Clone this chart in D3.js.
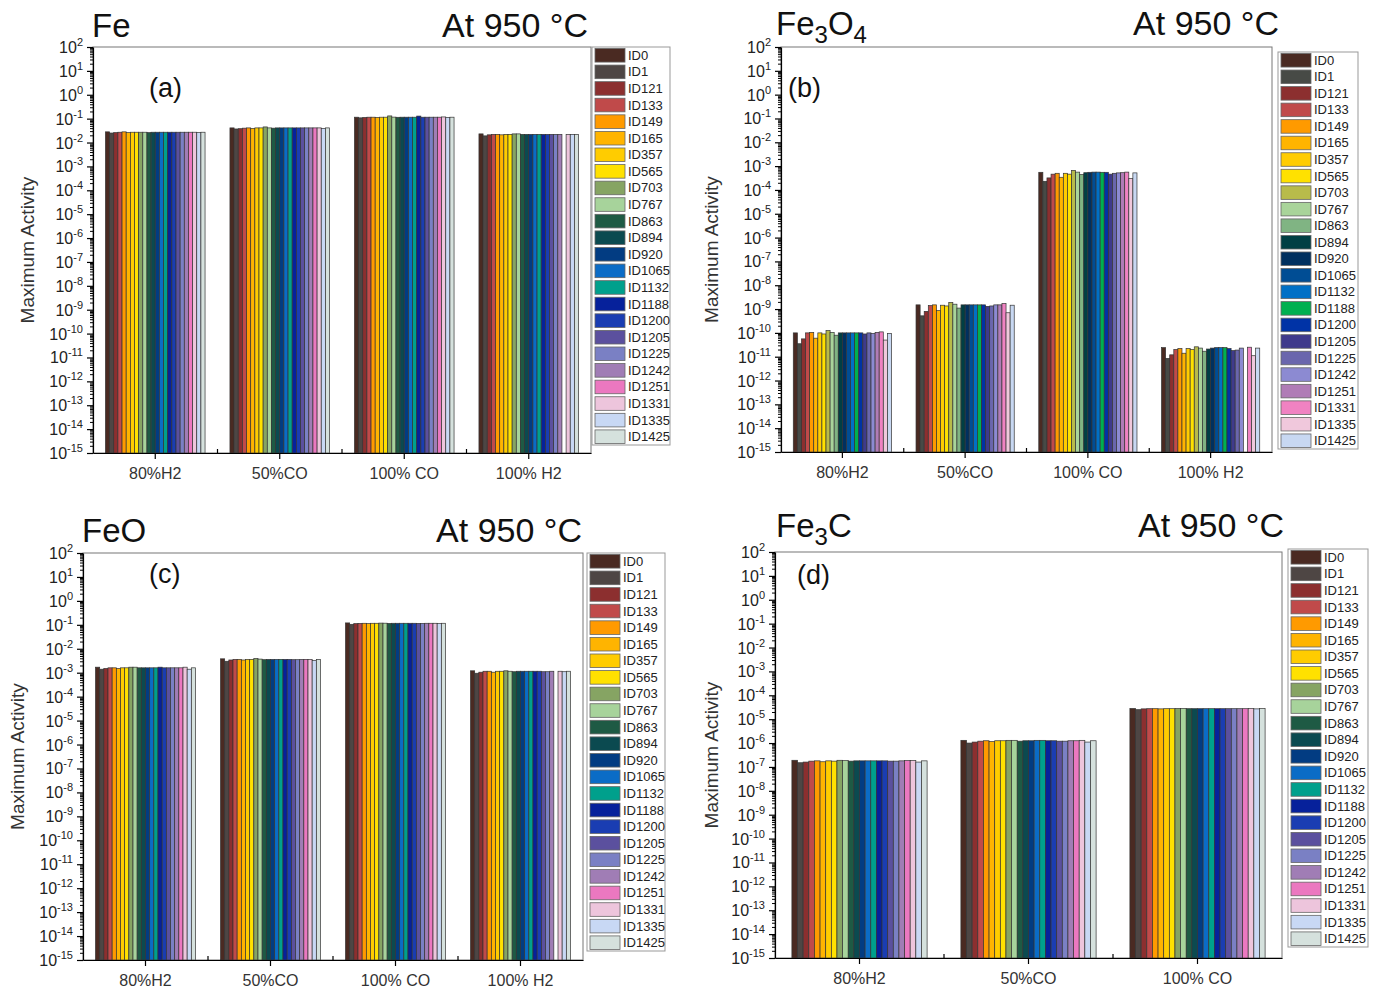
<!DOCTYPE html>
<html>
<head>
<meta charset="utf-8">
<script src="https://d3js.org/d3.v7.min.js"></script>
<style>
  body { margin: 0; background: #fff; }
  text { font-family: "Liberation Sans", Arial, sans-serif; }
</style>
</head>
<body>
<div id="chart"></div>
<script>
// sample ids (legend order)
const ids = ["ID0","ID1","ID121","ID133","ID149","ID165","ID357","ID565","ID703","ID767","ID863","ID894",
  "ID920","ID1065","ID1132","ID1188","ID1200","ID1205","ID1225","ID1242","ID1251","ID1331","ID1335","ID1425"];

// palette used in panels a, c, d
const colorsMain = ["#4a2a22","#4e4644","#8c2f2f","#c04a4a","#ff9a00","#ffb400","#ffcc00","#ffe100","#86a463","#a7d39b",
  "#1e5a44","#0b4a50","#023c82","#0b6cc6","#00a08c","#06219b","#1a3db2","#5b509e","#7a80c4","#a07db5","#eb78c0","#edc5dc","#c8d8f4","#d5e1dd"];
// palette used in panel b
const colorsFe3O4 = ["#4a2a22","#474a46","#8c2f2f","#c04a4a","#ff9a00","#ffb400","#ffcc00","#ffe100","#b8bb4a","#a9d49a",
  "#80b483","#003f44","#00305f","#004d94","#0070c6","#00b050","#0033a6","#3f3a8c","#6a66ad","#8c8ad2","#b07cb6","#f082c2","#f0c8dc","#c8d8f2"];

const cond4 = ["80%H2","50%CO","100% CO","100% H2"];
const cond3 = ["80%H2","50%CO","100% CO"];

// panel (a) Fe
const fe80H2  = [0.028,0.025,0.026,0.027,0.028,0.026,0.027,0.027,0.027,0.027,0.026,0.027,0.027,0.027,0.027,0.027,0.027,0.027,0.027,0.027,0.027,0.027,0.026,0.027];
const fe50CO  = [0.041,0.037,0.038,0.040,0.041,0.039,0.041,0.041,0.045,0.041,0.040,0.041,0.041,0.041,0.041,0.041,0.041,0.041,0.041,0.041,0.041,0.041,0.039,0.041];
const fe100CO = [0.115,0.108,0.112,0.115,0.115,0.113,0.115,0.115,0.130,0.116,0.114,0.115,0.115,0.115,0.115,0.128,0.115,0.115,0.115,0.115,0.115,0.118,0.113,0.115];
const fe100H2 = [0.023,0.019,0.021,0.022,0.022,0.021,0.022,0.022,0.023,0.023,0.022,0.022,0.022,0.022,0.022,0.022,0.022,0.022,0.022,0.022,null,0.022,0.022,0.022];

// panel (b) Fe3O4
const fe3o4_80H2  = [1.0e-10,3.5e-11,5.6e-11,1.0e-10,1.05e-10,6.0e-11,1.0e-10,9.0e-11,1.25e-10,1.05e-10,8.0e-11,1.0e-10,1.0e-10,1.0e-10,1.0e-10,1.0e-10,1.0e-10,9.0e-11,1.0e-10,9.5e-11,1.05e-10,1.1e-10,5.0e-11,9.5e-11];
const fe3o4_50CO  = [1.5e-9,5.2e-10,8.0e-10,1.4e-9,1.5e-9,8.6e-10,1.45e-9,1.35e-9,1.9e-9,1.6e-9,1.1e-9,1.5e-9,1.5e-9,1.5e-9,1.5e-9,1.5e-9,1.5e-9,1.3e-9,1.35e-9,1.5e-9,1.5e-9,1.7e-9,7.0e-10,1.45e-9];
const fe3o4_100CO = [5.5e-4,2.3e-4,3.2e-4,4.6e-4,5.0e-4,3.4e-4,5.0e-4,4.6e-4,6.6e-4,5.6e-4,4.4e-4,5.3e-4,5.5e-4,5.6e-4,5.6e-4,5.5e-4,5.5e-4,4.6e-4,5.0e-4,5.2e-4,5.3e-4,5.6e-4,3.0e-4,5.2e-4];
const fe3o4_100H2 = [2.4e-11,8.5e-12,1.2e-11,2.0e-11,2.2e-11,1.4e-11,2.2e-11,2.0e-11,2.6e-11,2.3e-11,1.7e-11,2.1e-11,2.3e-11,2.4e-11,2.4e-11,2.4e-11,2.2e-11,1.8e-11,1.9e-11,2.3e-11,null,2.5e-11,1.1e-11,2.3e-11];

// panel (c) FeO
const feo80H2  = [1.7e-3,1.4e-3,1.5e-3,1.6e-3,1.6e-3,1.5e-3,1.6e-3,1.6e-3,1.7e-3,1.7e-3,1.6e-3,1.6e-3,1.6e-3,1.6e-3,1.6e-3,1.7e-3,1.6e-3,1.6e-3,1.6e-3,1.6e-3,1.6e-3,1.7e-3,1.4e-3,1.6e-3];
const feo50CO  = [3.8e-3,3.0e-3,3.4e-3,3.6e-3,3.6e-3,3.4e-3,3.6e-3,3.6e-3,3.9e-3,3.7e-3,3.5e-3,3.6e-3,3.6e-3,3.6e-3,3.6e-3,3.6e-3,3.6e-3,3.5e-3,3.5e-3,3.6e-3,3.6e-3,3.6e-3,3.2e-3,3.6e-3];
const feo100CO = [0.120,0.105,0.112,0.115,0.116,0.113,0.116,0.116,0.118,0.117,0.115,0.116,0.116,0.116,0.116,0.116,0.116,0.115,0.115,0.116,0.116,0.116,0.112,0.116];
const feo100H2 = [1.2e-3,0.95e-3,1.05e-3,1.15e-3,1.15e-3,1.05e-3,1.15e-3,1.15e-3,1.2e-3,1.15e-3,1.1e-3,1.15e-3,1.15e-3,1.15e-3,1.15e-3,1.15e-3,1.15e-3,1.1e-3,1.1e-3,1.15e-3,null,1.15e-3,1.1e-3,1.15e-3];

// panel (d) Fe3C
const fe3c80H2  = [1.9e-7,1.5e-7,1.6e-7,1.75e-7,1.8e-7,1.65e-7,1.8e-7,1.75e-7,1.9e-7,1.85e-7,1.75e-7,1.8e-7,1.8e-7,1.8e-7,1.8e-7,1.8e-7,1.8e-7,1.75e-7,1.75e-7,1.8e-7,1.85e-7,1.85e-7,1.6e-7,1.8e-7];
const fe3c50CO  = [1.3e-6,1.0e-6,1.1e-6,1.2e-6,1.25e-6,1.15e-6,1.25e-6,1.25e-6,1.3e-6,1.3e-6,1.2e-6,1.25e-6,1.25e-6,1.3e-6,1.3e-6,1.25e-6,1.25e-6,1.2e-6,1.2e-6,1.25e-6,1.25e-6,1.3e-6,1.1e-6,1.25e-6];
const fe3c100CO = [2.8e-5,2.5e-5,2.7e-5,2.75e-5,2.75e-5,2.7e-5,2.75e-5,2.75e-5,2.8e-5,2.8e-5,2.75e-5,2.75e-5,2.75e-5,2.75e-5,2.75e-5,2.75e-5,2.75e-5,2.75e-5,2.75e-5,2.75e-5,2.75e-5,2.8e-5,2.7e-5,2.8e-5];

const svg = d3.select("#chart").append("svg")
  .attr("width", 1378).attr("height", 992);

const decades = d3.range(-15, 3);

function drawPanel(p) {
  const g = svg.append("g");
  const y = d3.scaleLog().domain([1e-15, 1e2]).range([p.bottom, p.top]);
  const x0 = d3.scaleBand().domain(p.conds).range([p.left, p.right]).paddingInner(0.2).paddingOuter(0.1);
  const x1 = d3.scaleBand().domain(ids).range([0, x0.bandwidth()]);
  const color = d3.scaleOrdinal().domain(ids).range(p.colors);

  // frame
  g.append("rect").attr("x", p.left).attr("y", p.top)
    .attr("width", p.right - p.left).attr("height", p.bottom - p.top)
    .attr("fill", "none").attr("stroke", "#777").attr("stroke-width", 1);

  // bars
  p.conds.forEach((c, ci) => {
    g.append("g").attr("transform", `translate(${x0(c)},0)`)
      .selectAll("rect")
      .data(ids.map((id, i) => ({id: id, v: p.values[ci][i]})).filter(d => d.v != null))
      .join("rect")
        .attr("x", d => x1(d.id))
        .attr("y", d => y(d.v))
        .attr("width", x1.bandwidth())
        .attr("height", d => p.bottom - y(d.v))
        .attr("fill", d => color(d.id))
        .attr("stroke", "#333")
        .attr("stroke-width", 0.7);
  });

  // y axis with log minor ticks
  const minor = [];
  decades.slice(0, -1).forEach(k => { for (let m = 2; m < 10; m++) minor.push(m * Math.pow(10, k)); });
  g.append("g").attr("transform", `translate(${p.left},0)`)
    .call(d3.axisLeft(y).tickValues(minor).tickSize(3).tickFormat(""))
    .call(a => a.select(".domain").remove());
  const ya = g.append("g").attr("transform", `translate(${p.left},0)`)
    .call(d3.axisLeft(y).tickValues(decades.map(k => Math.pow(10, k))).tickSize(6).tickSizeOuter(0).tickFormat(""));
  ya.selectAll("line, path").attr("stroke", "#000").attr("stroke-width", 1.2);
  decades.forEach(k => {
    const t = g.append("text")
      .attr("x", p.left - 10).attr("y", y(Math.pow(10, k)) + 6)
      .attr("text-anchor", "end").attr("font-size", 16).attr("fill", "#222");
    t.append("tspan").text("10");
    t.append("tspan").attr("dy", -7).attr("font-size", 11).text(k);
  });

  // x axis
  const xa = g.append("g").attr("transform", `translate(0,${p.bottom})`)
    .call(d3.axisBottom(x0).tickSize(6).tickSizeOuter(0));
  xa.selectAll("line, path").attr("stroke", "#000").attr("stroke-width", 1.2);
  xa.selectAll("text").attr("font-size", 16).attr("fill", "#333").attr("dy", "1.05em")
    .style("font-family", "'Liberation Sans', Arial, sans-serif");
  const step = x0.step();
  g.selectAll(".sep").data(p.conds.slice(1)).join("line")
    .attr("x1", d => x0(d) - step * 0.1).attr("x2", d => x0(d) - step * 0.1)
    .attr("y1", p.bottom).attr("y2", p.bottom - 4)
    .attr("stroke", "#000").attr("stroke-width", 1.2);

  // y label
  g.append("text")
    .attr("transform", `translate(${p.ylabelX},${(p.top + p.bottom) / 2}) rotate(-90)`)
    .attr("text-anchor", "middle").attr("font-size", 19).attr("fill", "#333")
    .text("Maximum Activity");

  // titles
  const tt = g.append("text").attr("x", p.titleX).attr("y", p.titleY)
    .attr("font-size", 33).attr("fill", "#111");
  p.title.forEach(s => {
    if (s.sub) tt.append("tspan").attr("font-size", 24).attr("dy", 8).text(s.t);
    else tt.append("tspan").attr("dy", s.after ? -8 : 0).text(s.t);
  });
  g.append("text").attr("x", p.tempX).attr("y", p.titleY)
    .attr("text-anchor", "end").attr("font-size", 34).attr("fill", "#111")
    .text("At 950 °C");
  g.append("text").attr("x", p.left + p.tagDx).attr("y", p.top + p.tagDy)
    .attr("font-size", 27).attr("fill", "#111").text(p.tag);

  // legend
  const lg = g.append("g").attr("transform", `translate(${p.legX},${p.legY})`);
  const rowH = p.legH / ids.length;
  lg.append("rect").attr("width", p.legW).attr("height", p.legH)
    .attr("fill", "#fff").attr("stroke", "#999");
  ids.forEach((id, i) => {
    lg.append("rect").attr("x", 3).attr("y", i * rowH + 1.5)
      .attr("width", 30).attr("height", rowH - 3)
      .attr("fill", color(id)).attr("stroke", "#666").attr("stroke-width", 0.8);
    lg.append("text").attr("x", 36).attr("y", i * rowH + rowH / 2 + 4.5)
      .attr("font-size", 13).attr("fill", "#222").text(id);
  });
}

drawPanel({
  left: 93, right: 591, top: 47, bottom: 453, conds: cond4, colors: colorsMain,
  values: [fe80H2, fe50CO, fe100CO, fe100H2],
  ylabelX: 34, titleX: 92, titleY: 37, tempX: 588, tagDx: 56, tagDy: 50, tag: "(a)",
  title: [{t: "Fe"}],
  legX: 592, legY: 47, legW: 78, legH: 398
});
drawPanel({
  left: 781, right: 1272, top: 47, bottom: 452, conds: cond4, colors: colorsFe3O4,
  values: [fe3o4_80H2, fe3o4_50CO, fe3o4_100CO, fe3o4_100H2],
  ylabelX: 718, titleX: 776, titleY: 35, tempX: 1279, tagDx: 7, tagDy: 50, tag: "(b)",
  title: [{t: "Fe"}, {t: "3", sub: true}, {t: "O", after: true}, {t: "4", sub: true}],
  legX: 1278, legY: 52, legW: 80, legH: 397
});
drawPanel({
  left: 83, right: 583, top: 553, bottom: 960, conds: cond4, colors: colorsMain,
  values: [feo80H2, feo50CO, feo100CO, feo100H2],
  ylabelX: 24, titleX: 82, titleY: 542, tempX: 582, tagDx: 66, tagDy: 30, tag: "(c)",
  title: [{t: "FeO"}],
  legX: 587, legY: 553, legW: 78, legH: 398
});
drawPanel({
  left: 775, right: 1282, top: 552, bottom: 958, conds: cond3, colors: colorsMain,
  values: [fe3c80H2, fe3c50CO, fe3c100CO],
  ylabelX: 718, titleX: 776, titleY: 537, tempX: 1284, tagDx: 22, tagDy: 32, tag: "(d)",
  title: [{t: "Fe"}, {t: "3", sub: true}, {t: "C", after: true}],
  legX: 1288, legY: 549, legW: 80, legH: 398
});
</script>
</body>
</html>
